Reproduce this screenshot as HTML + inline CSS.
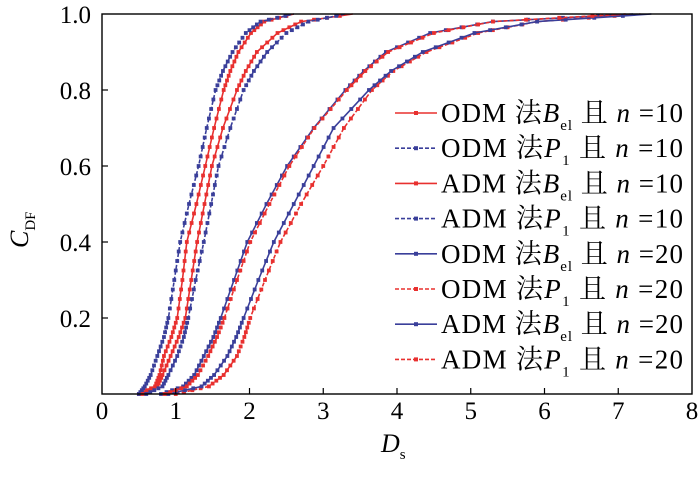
<!DOCTYPE html>
<html><head><meta charset="utf-8"><style>
body{margin:0;background:#fff}
svg{display:block;font-family:"Liberation Serif","Noto Serif CJK SC",serif}
</style></head><body>
<svg id="chart" width="700" height="477" viewBox="0 0 700 477"></svg>
<script>
const yLevels=[0,0.02,0.05,0.1,0.15,0.2,0.3,0.4,0.5,0.6,0.7,0.8,0.85,0.9,0.95,0.98,1.0];
const seriesNames=["ODM 法Bel 且 n=10","ODM 法P1 且 n=10","ADM 法Bel 且 n=10","ADM 法P1 且 n=10","ODM 法Bel 且 n=20","ODM 法P1 且 n=20","ADM 法Bel 且 n=20","ADM 法P1 且 n=20"];
const sODMBel10=[0.5,0.72,0.78,0.84,0.94,1.02,1.09,1.15,1.28,1.40,1.52,1.65,1.74,1.85,2.02,2.2,2.6];
const sODMP110=[0.5,0.58,0.66,0.75,0.84,0.90,0.98,1.06,1.18,1.31,1.42,1.54,1.64,1.77,1.95,2.15,2.6];
const sADMBel10=[0.55,0.75,0.82,0.93,1.04,1.13,1.21,1.29,1.39,1.49,1.64,1.83,1.95,2.10,2.38,2.7,3.4];
const sADMP110=[0.6,0.82,0.9,1.02,1.11,1.17,1.27,1.38,1.48,1.58,1.74,1.92,2.06,2.24,2.5,2.8,3.3];
const sODMBel20=[0.8,1.1,1.25,1.38,1.51,1.61,1.79,1.97,2.23,2.51,2.87,3.30,3.55,3.85,4.45,5.3,7.2];
const sODMP120=[1.0,1.45,1.65,1.83,1.93,2.01,2.21,2.42,2.70,3.00,3.28,3.66,3.95,4.4,5.1,5.9,7.3];
const sADMBel20=[0.9,1.35,1.52,1.70,1.82,1.92,2.12,2.33,2.60,2.87,3.14,3.62,3.92,4.35,5.05,5.9,7.45];
const sADMP120=[0.85,1.15,1.3,1.44,1.56,1.66,1.83,2.01,2.27,2.54,2.88,3.32,3.57,3.88,4.5,5.3,7.1];
const allSeries=[sODMBel10,sODMP110,sADMBel10,sADMP110,sODMBel20,sODMP120,sADMBel20,sADMP120];
const colors=["#e8302f","#3a3f9a","#e8302f","#3a3f9a","#3a3f9a","#e8302f","#3a3f9a","#e8302f"];
const dashed=[false,true,false,true,false,true,false,true];
const xTicks=[0,1,2,3,4,5,6,7,8];
const yTicks=[0.2,0.4,0.6,0.8,1.0];
const yTickLabels=["0.2","0.4","0.6","0.8","1.0"];
const L=102,R=692,T=14,B=394;
const xs=v=>L+v/8*(R-L), ys=v=>B-v*(B-T);
const NS="http://www.w3.org/2000/svg", svg=document.getElementById('chart');
function mk(t,a,p){const e=document.createElementNS(NS,t);for(const k in a)e.setAttribute(k,a[k]);(p||svg).appendChild(e);return e;}
allSeries.forEach((s,i)=>{
  const g=mk('g',{});
  
  
  const pts=s.map((x,j)=>xs(x).toFixed(1)+','+ys(yLevels[j]).toFixed(1)).join(' ');
  const pl=mk('polyline',{points:pts,fill:'none',stroke:colors[i],'stroke-width':1.6,'stroke-dasharray':dashed[i]?'4 2':'none'},g);
  
  
  for(let j=0;j<s.length-1;j++){
    for(let k=0;k<4;k++){
      const f=k/4, x=s[j]+(s[j+1]-s[j])*f, y=yLevels[j]+(yLevels[j+1]-yLevels[j])*f;
      const m=mk('rect',{x:xs(x)-1.9,y:ys(y)-1.9,width:3.8,height:3.8,fill:colors[i]},g);
      
      
    }
  }
});
const fr=mk('rect',{x:L,y:T,width:R-L,height:B-T,fill:'none',stroke:'#000','stroke-width':1.4});


xTicks.forEach(v=>{
  if(v>0&&v<8){const t=mk('line',{x1:xs(v),x2:xs(v),y1:B,y2:B-6,stroke:'#000','stroke-width':1.2});
  }
  const tx=mk('text',{x:xs(v),y:419,'font-size':25,'text-anchor':'middle'});tx.textContent=v;
  
  
});
yTicks.forEach((v,i)=>{
  if(v<1){const t=mk('line',{x1:L,x2:L+6,y1:ys(v),y2:ys(v),stroke:'#000','stroke-width':1.2});
  }
  const tx=mk('text',{x:91,y:ys(v)+9,'font-size':25,'text-anchor':'end'});tx.textContent=yTickLabels[i];
  
  
});
const lg=mk('g',{});


const legMain=["ODM","ODM","ADM","ADM","ODM","ODM","ADM","ADM"];
const legVar=["B","P","B","P","B","P","B","P"];
const legSub=["el","1","el","1","el","1","el","1"];
const legN=["10","10","10","10","20","20","20","20"];
for(let i=0;i<8;i++){
  const y=113+i*35.2;
  const e=mk('g',{},lg);
  
  
  mk('line',{x1:395,x2:437,y1:y,y2:y,stroke:colors[i],'stroke-width':1.6,'stroke-dasharray':dashed[i]?'4 2':'none'},e);
  mk('rect',{x:414,y:y-2,width:4,height:4,fill:colors[i]},e);
  const t=mk('text',{x:441,y:y+9,'font-size':27,textLength:242,lengthAdjust:'spacing'},e);
  t.innerHTML=legMain[i]+' 法<tspan font-style="italic">'+legVar[i]+'</tspan><tspan font-size="15" dy="8">'+legSub[i]+'</tspan><tspan dy="-8"> 且 </tspan><tspan font-style="italic">n</tspan> ='+legN[i];
}
const xl=mk('text',{x:381,y:452,'font-size':26,'font-style':'italic'});
xl.innerHTML='D<tspan font-size="15" font-style="normal" dy="7">s</tspan>';


const yl=mk('text',{x:0,y:0,'font-size':26,'font-style':'italic',transform:'translate(28,248) rotate(-90)'});
yl.innerHTML='C<tspan font-size="15" font-style="normal" dy="7">DF</tspan>';


</script>
</body></html>
